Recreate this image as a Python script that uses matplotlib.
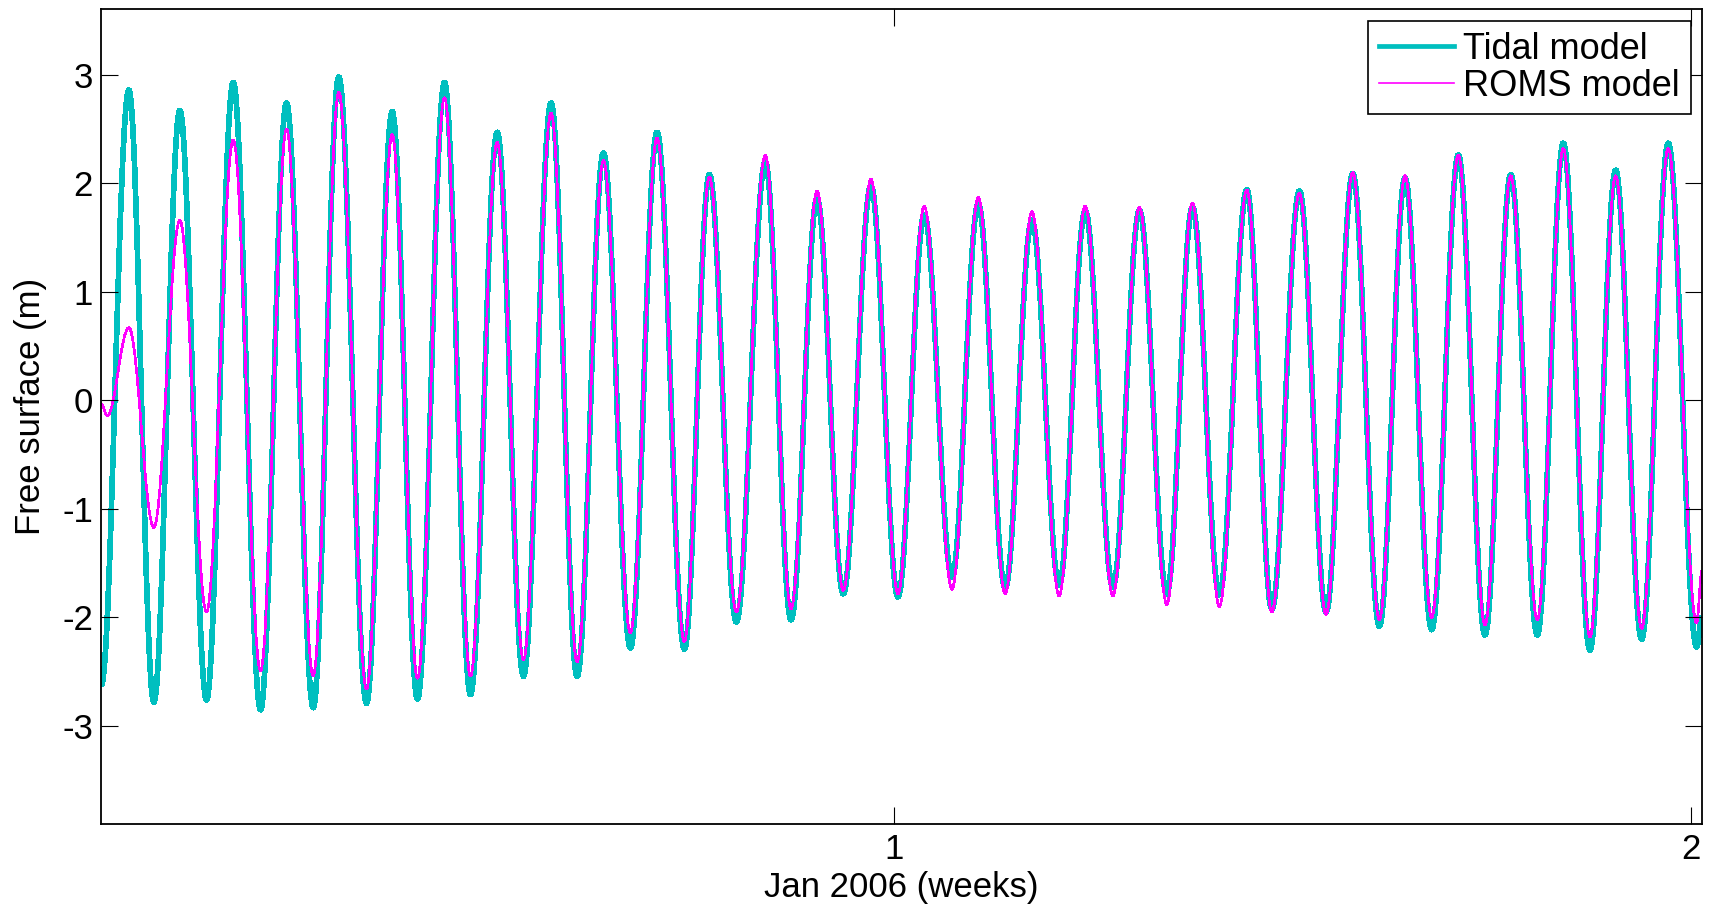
import numpy as np
import matplotlib
matplotlib.use('Agg')
import matplotlib.pyplot as plt
from matplotlib.path import Path
from matplotlib.patches import PathPatch
from matplotlib.lines import Line2D

# times of the extrema (weeks from 1 Jan 2006)
t_peak = [0.0396, 0.1036, 0.1706, 0.2375, 0.3031, 0.3701, 0.4358, 0.5019, 0.5696, 0.6353,
          0.7026, 0.7683, 0.8385, 0.9034, 0.9711, 1.0380, 1.1058, 1.1731, 1.2400, 1.3081,
          1.3746, 1.4429, 1.5089, 1.5759, 1.6415, 1.7084, 1.7742, 1.8402, 1.9059, 1.9719]
t_trough = [0.0710, 0.1371, 0.2049, 0.2710, 0.3379, 0.4019, 0.4684, 0.5349, 0.6023, 0.6691,
            0.7369, 0.8021, 0.8708, 0.9364, 1.0050, 1.0728, 1.1396, 1.2074, 1.2748, 1.3425,
            1.4085, 1.4743, 1.5424, 1.6093, 1.6750, 1.7419, 1.8075, 1.8736, 1.9385, 2.0075]

# tidal model free surface (m) at high / low water
tidal_peak = [2.86, 2.67, 2.93, 2.74, 2.98, 2.66, 2.93, 2.47, 2.74, 2.28,
              2.47, 2.08, 2.20, 1.86, 1.98, 1.71, 1.81, 1.66, 1.75, 1.75,
              1.78, 1.94, 1.93, 2.09, 2.05, 2.26, 2.08, 2.37, 2.12, 2.37]
tidal_trough = [-2.78, -2.76, -2.85, -2.83, -2.79, -2.75, -2.71, -2.54, -2.54, -2.28,
                -2.29, -2.04, -2.02, -1.78, -1.81, -1.63, -1.73, -1.70, -1.72, -1.78,
                -1.79, -1.92, -1.95, -2.08, -2.11, -2.16, -2.16, -2.30, -2.20, -2.27]

# ROMS model free surface (m) at high / low water
roms_peak = [0.67, 1.66, 2.40, 2.50, 2.84, 2.45, 2.79, 2.38, 2.65, 2.21,
             2.42, 2.06, 2.26, 1.93, 2.04, 1.79, 1.87, 1.74, 1.79, 1.78,
             1.82, 1.94, 1.91, 2.10, 2.07, 2.26, 2.07, 2.32, 2.07, 2.32]
roms_trough = [-1.17, -1.95, -2.49, -2.54, -2.66, -2.56, -2.54, -2.39, -2.41, -2.14,
               -2.22, -1.95, -1.92, -1.75, -1.78, -1.74, -1.78, -1.80, -1.80, -1.88,
               -1.90, -1.95, -1.97, -2.02, -2.00, -2.07, -2.02, -2.18, -2.10, -2.05]

# first / last records of each run
tidal_t_start = [0.005]
tidal_v_start = [-2.62]
roms_t_start = [0.005, 0.0125]
roms_v_start = [-0.03, -0.14]
t_end = [2.0142]
tidal_v_end = [-2.0]
roms_v_end = [-1.57]

y_ticks = [-3, -2, -1, 0, 1, 2, 3]
x_ticks = [1, 2]


def series(t_start, v_start, v_peak, v_trough, v_end):
    # put the records in time order: start, peak, trough, peak, ..., end
    t = np.empty(2*len(t_peak))
    v = np.empty(2*len(t_peak))
    t[0::2] = t_peak
    t[1::2] = t_trough
    v[0::2] = v_peak
    v[1::2] = v_trough
    t = np.concatenate((t_start, t, t_end))
    v = np.concatenate((v_start, v, v_end))
    return t, v


def tide_path(t, v, a=0.363):
    # cubic bezier through the records, flat at each turning point
    verts = [(t[0], v[0])]
    codes = [Path.MOVETO]
    for i in range(len(t)-1):
        dt = t[i+1] - t[i]
        verts += [(t[i] + a*dt, v[i]), (t[i+1] - a*dt, v[i+1]), (t[i+1], v[i+1])]
        codes += [Path.CURVE4]*3
    return Path(verts, codes)


plt.rcParams['font.family'] = ['Liberation Sans', 'DejaVu Sans']
plt.rcParams['axes.unicode_minus'] = False

c_tidal = '#00bfbf'
c_roms = '#ff00ff'
lw_tidal = 3.4
lw_roms = 1.2

fig = plt.figure(figsize=(17.11, 9.06), dpi=100)
ax = fig.add_axes([0.0592, 0.0902, 0.9355, 0.8999])

t, v = series(tidal_t_start, tidal_v_start, tidal_peak, tidal_trough, tidal_v_end)
ax.add_patch(PathPatch(tide_path(t, v), facecolor='none', edgecolor=c_tidal,
                       lw=lw_tidal, antialiased=False, capstyle='butt'))
t, v = series(roms_t_start, roms_v_start, roms_peak, roms_trough, roms_v_end)
ax.add_patch(PathPatch(tide_path(t, v), facecolor='none', edgecolor=c_roms,
                       lw=lw_roms, antialiased=False, capstyle='butt'))

ax.set_xlim(0.005, 2.0142)
ax.set_ylim(-3.906, 3.608)
ax.set_xticks(x_ticks)
ax.set_yticks(y_ticks)
ax.tick_params(direction='in', length=12, width=0.8, labelsize=25,
               top=True, right=True, pad=6)
for s in ax.spines.values():
    s.set_linewidth(1.3)

ax.set_xlabel('Jan 2006 (weeks)', fontsize=25)
ax.set_ylabel('Free surface (m)', fontsize=25)
ax.xaxis.set_label_coords(0.5, -0.057)
ax.yaxis.set_label_coords(-0.034, 0.513)

handles = [Line2D([], [], color=c_tidal, lw=lw_tidal),
           Line2D([], [], color=c_roms, lw=lw_roms)]
leg = ax.legend(handles, ['Tidal model', 'ROMS model'], loc='upper right',
                bbox_to_anchor=(0.9931, 0.9853), borderaxespad=0, fontsize=26,
                fancybox=False, framealpha=1, edgecolor='black',
                handlelength=2.1, handletextpad=0.25, labelspacing=0.05,
                borderpad=0.3)
leg.get_frame().set_linewidth(1.2)

fig.savefig('out.png', dpi=100)
